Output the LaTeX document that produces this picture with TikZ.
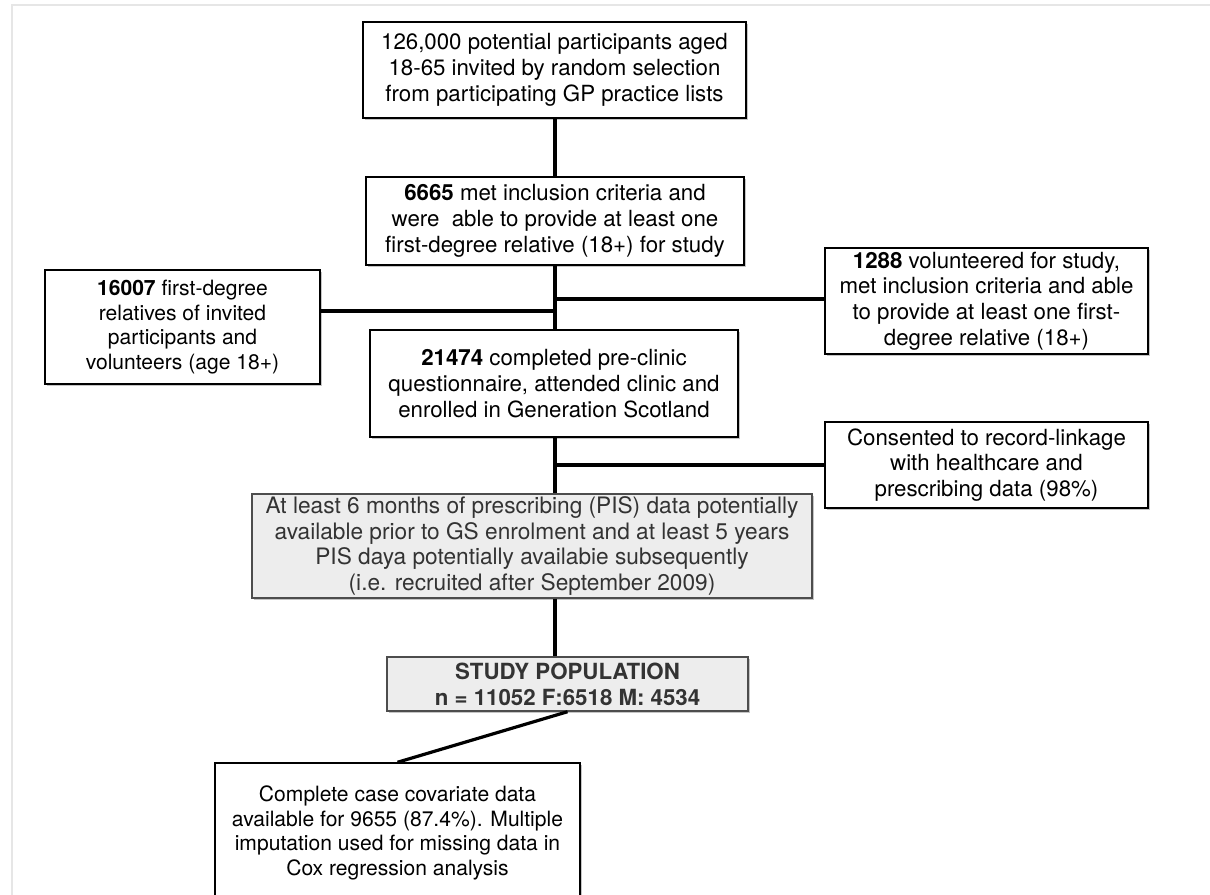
\documentclass[tikz,border=0pt]{standalone}
\usepackage{fontspec}
\setmainfont{TeX Gyre Heros}
\usetikzlibrary{shadows}
\definecolor{frameGray}{HTML}{E6E6E6}
\definecolor{boxFill}{HTML}{EDEDED}
\definecolor{darkText}{HTML}{333333}
\definecolor{greyBorder}{HTML}{4D4D4D}
\tikzset{
  flowbox/.style={draw=black, line width=1.1pt, fill=white, align=center, inner sep=0pt,
    font=\fontsize{16.7}{19.3}\selectfont,
    drop shadow={shadow xshift=1.5pt, shadow yshift=-1.8pt, opacity=0.45, fill=gray}},
  smallbox/.style={flowbox, font=\fontsize{15.8}{18.6}\selectfont},
  greybox/.style={flowbox, draw=greyBorder, fill=boxFill, text=darkText},
  link/.style={draw=black, line width=2.4pt}
}
\begin{document}
\begin{tikzpicture}[x=0.75pt,y=-0.75pt]
\useasboundingbox (0,0) rectangle (1210,895);
\clip (0,0) rectangle (1210,895);
\fill[white] (0,0) rectangle (1210,895);
% light frame
\coordinate (frameTL) at (12,5);
\coordinate (frameTR) at (1215,5);
\coordinate (frameBL) at (12,900);
\draw[frameGray, line width=1.5pt] (frameBL) -- (frameTL) -- (frameTR);

\node[flowbox, minimum width=287.25pt, minimum height=72pt] (A) at (554.5,70)
  {126,000 potential participants aged\\18-65 invited by random selection\\from participating GP practice lists};
\node[flowbox, minimum width=283.5pt, minimum height=66pt] (B) at (555,221)
  {\textbf{6665} met inclusion criteria and\\were\ \ able to provide at least one\\first-degree relative (18+) for study};
\node[smallbox, minimum width=206.25pt, minimum height=85.5pt] (C) at (182.5,327)
  {\textbf{16007} first-degree\\relatives of invited\\participants and\\volunteers (age 18+)};
\node[flowbox, minimum width=242.25pt, minimum height=79.5pt] (D) at (986.5,301)
  {\textbf{1288} volunteered for study,\\met inclusion criteria and able\\to provide at least one first-\\degree relative (18+)};
\node[flowbox, minimum width=276pt, minimum height=80.25pt] (E) at (554,383.5)
  {\textbf{21474} completed pre-clinic\\questionnaire, attended clinic and\\enrolled in Generation Scotland};
\node[flowbox, minimum width=242.25pt, minimum height=64.5pt] (F) at (986.5,465)
  {Consented to record-linkage\\with healthcare and\\prescribing data (98\%)};
\node[greybox, minimum width=420pt, minimum height=78pt, font=\fontsize{17}{19.3}\selectfont] (G) at (532,546)
  {At least 6 months of prescribing (PIS) data potentially\\available prior to GS enrolment and at least 5 years\\PIS daya potentially availabie subsequently\\(i.e. recruited after September 2009)};
\node[greybox, minimum width=270.75pt, minimum height=40.5pt, font=\fontsize{16.7}{19.3}\selectfont\bfseries] (H) at (567.5,684)
  {STUDY POPULATION\\n = 11052 F:6518 M: 4534};
\node[smallbox, minimum width=273.75pt, minimum height=105pt] (I) at (397.5,833)
  {Complete case covariate data\\available for 9655 (87.4\%). Multiple\\imputation used for missing data in\\Cox regression analysis};

% junctions
\coordinate (jR) at (555,299);
\coordinate (jL) at (555,311);
\coordinate (jC) at (555,465);

\draw[link] (A.south -| B.north) -- (B.north);
\draw[link] (B.south) -- (B.south |- E.north);
\draw[link] (C.east |- jL) -- (jL);
\draw[link] (jR) -- (D.west |- jR);
\draw[link] (E.south -| jC) -- (B.south |- G.north);
\draw[link] (jC) -- (F.west);
\draw[link] (jC |- G.south) -- (jC |- H.north);
\draw[link] (H.south) -- (I.north);
\end{tikzpicture}
\end{document}
